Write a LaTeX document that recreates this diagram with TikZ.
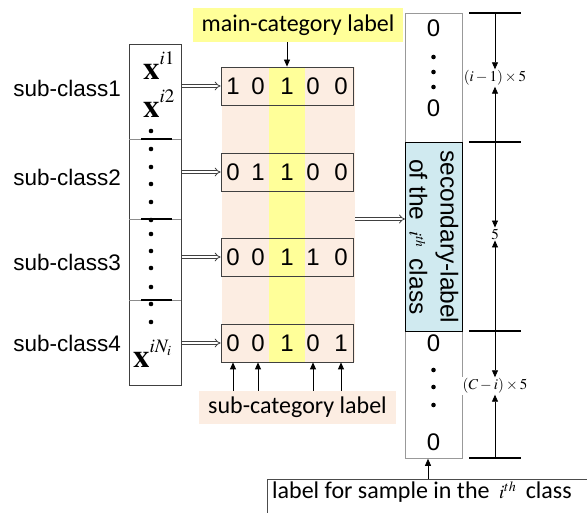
\documentclass[tikz,border=0pt]{standalone}
\usepackage{mathptmx}
\usepackage{fontspec}
\setmainfont{Liberation Sans}
\newfontfamily\arialf{Liberation Sans}
\newfontfamily\arialr{Liberation Sans}
\newfontfamily\calf{Carlito}
\usetikzlibrary{arrows.meta}
\definecolor{peach}{RGB}{252,237,226}
\definecolor{lyellow}{RGB}{255,255,153}
\definecolor{lblue}{RGB}{208,234,240}
\tikzset{
  bitbox/.style={draw=black!75, line width=0.8pt, minimum width=132pt, minimum height=38pt, inner sep=0pt},
  bit/.style={font=\arialf\fontsize{24}{24}\selectfont, inner sep=0pt},
  dbl/.style={draw=black!75, double=white, double distance=2.2pt, line width=0.8pt, -{Implies}},
  tri/.style={-{Triangle[length=7pt,width=6pt]}, line width=0.8pt},
  sublab/.style={font=\arialf\fontsize{22.5}{22.5}\selectfont, anchor=east, inner sep=0pt},
  dimlab/.style={font=\fontsize{15}{15}\selectfont, inner sep=1pt, fill=white},
  zero/.style={font=\arialr\fontsize{24}{24}\selectfont, inner sep=0pt},
  dotc/.style={fill=black, circle, inner sep=0pt, minimum size=4.6pt},
  xlab/.style={anchor=base west, inner sep=0pt},
}
\newcommand{\bigx}[1]{\fontsize{33}{33}\selectfont$\mathbf{x}$\raisebox{15pt}{\fontsize{19}{19}\selectfont$#1$}}
\begin{document}
\begin{tikzpicture}[x=1pt,y=-1pt]
\useasboundingbox (0,0) rectangle (587,513);
% backgrounds
\fill[peach] (222,67) rectangle (355,362);
\fill[lyellow] (269,67) rectangle (305,362);
% main category label
\node[fill=lyellow, minimum width=210pt, minimum height=34pt, inner sep=0pt,
      font=\calf\fontsize{24}{24}\selectfont] (mainlbl) at (298,25) {main-category label};
% sub category label
\node[fill=peach, minimum width=197pt, minimum height=33pt, inner sep=0pt,
      font=\calf\fontsize{24}{24}\selectfont] (sublbl) at (297.5,407.5) {sub-category label};
% left box
\node[draw=black!75, line width=0.8pt, minimum width=52pt, minimum height=341pt, inner sep=0pt, anchor=north west] (leftbox) at (129,44) {};
\foreach \yy in {139,219,300}{
  \draw[black!45, line width=0.5pt] (129,\yy) -- (181,\yy);
  \draw[black, line width=1.2pt] (141,\yy) -- (172,\yy);
}
\node[xlab] (x1) at (143,80) {\bigx{i1}};
\node[xlab] (x2) at (143,118) {\bigx{i2}};
\node[xlab] (xn) at (133,368) {\bigx{iN_i}};
\foreach \yy in {131,149,167,184,202,220,234,251,268,287,304,322}{
  \node[dotc] at (151,\yy) {};
}
% sub-class labels
\node[sublab] (sc1) at (121,88) {sub-class1};
\node[sublab] (sc2) at (121,177) {sub-class2};
\node[sublab] (sc3) at (121,262) {sub-class3};
\node[sublab] (sc4) at (121,343) {sub-class4};
% bit boxes
\node[bitbox] (b1) at (287,86) {};
\node[bitbox] (b2) at (287,172) {};
\node[bitbox] (b3) at (287,257) {};
\node[bitbox] (b4) at (287,343) {};
\foreach \b/\bits in {b1/{1,0,1,0,0}, b2/{0,1,1,0,0}, b3/{0,0,1,1,0}, b4/{0,0,1,0,1}}{
  \foreach \v [count=\k] in \bits {
    \pgfmathsetmacro{\dx}{{-54,-29,0,26,54}[\k-1]}
    \node[bit] (\b d\k) at ([xshift=\dx pt]\b.center) {\v};
  }
}
% double arrows
\foreach \b in {b1,b2,b3,b4}{
  \draw[dbl] (leftbox.east |- \b.west) -- (\b.west);
}
% main label arrow
\draw[tri] (mainlbl.south -| b1.north) -- (b1.north);
% sub label arrows
\foreach \k in {1,2,4,5}{
  \draw[tri] (sublbl.north -| b4d\k) -- (b4.south -| b4d\k);
}
% right column
\node[draw=black!40, line width=0.8pt, minimum width=57pt, minimum height=445pt, inner sep=0pt, anchor=north west] (rcol) at (405,13) {};
\node[draw=black, fill=lblue, line width=0.8pt, minimum width=57pt, minimum height=189pt, inner sep=0pt, anchor=north west] (blue) at (405,142) {};
\node[rotate=-90, align=center, inner sep=0pt, font=\arialr\fontsize{24.5}{31}\selectfont] (sec) at (blue.center)
  {secondary-label\\of the \,{\fontsize{18}{18}\selectfont$i^{th}$}\, class};
\node[zero] (z1) at (433.5,28) {0};
\node[zero] (z2) at (433.5,108) {0};
\node[zero] (z3) at (433.5,343) {0};
\node[zero] (z4) at (433.5,442) {0};
\foreach \yy in {57,72,87,370,387,405}{
  \node[dotc] at (433.5,\yy) {};
}
% middle arrow
\coordinate (marr) at (355,219);
\draw[dbl] (marr) -- (blue.west |- marr);
% bottom label
\node[anchor=base west, inner sep=0pt, font=\calf\fontsize{24}{24}\selectfont] (botlbl) at (272,498)
  {label for sample in the \,{\fontsize{19}{19}\selectfont$i^{th}$}\, class};
\coordinate (bl) at (267,479);
\draw[black!70, line width=0.8pt] (267,520) -- (bl) -- (600,479);
\draw[tri] (bl -| 428,0) -- (rcol.south -| 428,0);
% dimension lines
\foreach \yy in {13,142,331,458}{
  \draw[line width=1.2pt] (469,\yy) -- (521,\yy);
}
\coordinate (t0) at (495,13);
\coordinate (t1) at (495,142);
\coordinate (t2) at (495,331);
\coordinate (t3) at (495,458);
\node[dimlab] (dl1) at (495,78) {$(i-1)\times 5$};
\node[dimlab] (dl2) at (495,234) {$5$};
\node[dimlab] (dl3) at (495,386) {$(C-i)\times 5$};
\draw[tri] (t0) -- (dl1.north);
\draw[tri] (t1) -- (dl1.south);
\draw[tri] (t1) -- (dl2.north);
\draw[tri] (t2) -- (dl2.south);
\draw[tri] (t2) -- (dl3.north);
\draw[tri] (t3) -- (dl3.south);
\end{tikzpicture}
\end{document}
